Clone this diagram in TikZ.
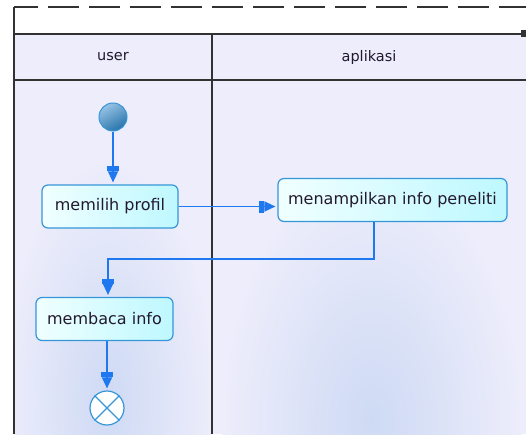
\documentclass[tikz,border=0pt]{standalone}
\usepackage{fontspec}
\setmainfont{DejaVu Sans}
\usetikzlibrary{arrows.meta,calc}
\definecolor{lanebg}{RGB}{237,237,251}
\definecolor{laneblue}{RGB}{206,218,244}
\definecolor{gridline}{RGB}{50,50,50}
\definecolor{flow}{RGB}{30,120,240}
\definecolor{boxedge}{RGB}{55,150,215}
\definecolor{boxlight}{RGB}{240,255,255}
\definecolor{boxcyan}{RGB}{190,248,255}
\definecolor{startlight}{RGB}{150,195,228}
\definecolor{startdark}{RGB}{40,115,170}
\definecolor{textdark}{RGB}{35,25,45}
\begin{document}
\begin{tikzpicture}[x=1pt,y=-1pt,
  frame/.style={draw=gridline, line width=1.2pt},
  lanetext/.style={font=\fontsize{14.5}{16}\selectfont, text=textdark},
  action/.style={draw=boxedge, line width=1.2pt, rounded corners=6pt,
    left color=boxlight, right color=boxcyan, minimum height=43pt,
    inner xsep=0pt, font=\fontsize{16}{18}\selectfont, text=textdark},
  flowarrow/.style={draw=flow, line width=1.4pt,
    -{Rectangle[length=5pt,width=12pt]Triangle[length=11pt,width=10pt]},
    shorten >=2pt}
]
\useasboundingbox (0,0) rectangle (526,434);
\fill[white] (0,0) rectangle (526,434);

% header band
\fill[lanebg] (14,34) rectangle (526,80);

% swimlane backgrounds with soft blue glow
\begin{scope}
  \clip (14,80) rectangle (212,434);
  \fill[lanebg] (14,80) rectangle (212,434);
  \shade[inner color=laneblue, outer color=lanebg] (108,400) ellipse [x radius=105, y radius=240];
\end{scope}
\begin{scope}
  \clip (212,80) rectangle (526,434);
  \fill[lanebg] (212,80) rectangle (526,434);
  \shade[inner color=laneblue, outer color=lanebg] (372,420) ellipse [x radius=150, y radius=250];
\end{scope}

% frame lines
\draw[frame, dash pattern=on 31pt off 10pt, dash phase=7pt] (14,7) -- (526,7);
\draw[frame] (14,7) -- (14,434);
\draw[frame] (14,34) -- (526,34);
\draw[frame] (14,80) -- (526,80);
\draw[frame] (212,34) -- (212,434);
\fill[gridline] (521,30) rectangle (526,37);

% lane titles
\node[lanetext] (laneuser) at (113,57) {user};
\node[lanetext] (laneapp) at (369,57) {aplikasi};

% activity nodes
\node[circle, minimum size=28pt, inner sep=0pt, draw=boxedge, line width=1pt,
  top color=startlight, bottom color=startdark, shading angle=30] (start) at (113,117) {};
\node[action, minimum width=136pt] (pick) at (110,206.5) {memilih profil};
\node[action, minimum width=229pt] (show) at (392.5,200) {menampilkan info peneliti};
\node[action, minimum width=137pt] (read) at (104.5,319) {membaca info};
\node[circle, minimum size=34pt, inner sep=0pt, draw=boxedge, line width=1.2pt,
  fill=white] (finish) at (107,408) {};
\draw[boxedge, line width=1.2pt] (finish.north west) -- (finish.south east)
  (finish.north east) -- (finish.south west);

% control flow
\coordinate (bend) at (108,259);
\draw[flowarrow] (start) -- (start |- pick.north);
\draw[flowarrow] (pick.east) -- (pick.east -| show.west);
\draw[flowarrow] (show.south -| 374,0) |- (bend) -- (bend |- read.north);
\draw[flowarrow] (finish |- read.south) -- (finish.north);
\end{tikzpicture}
\end{document}
